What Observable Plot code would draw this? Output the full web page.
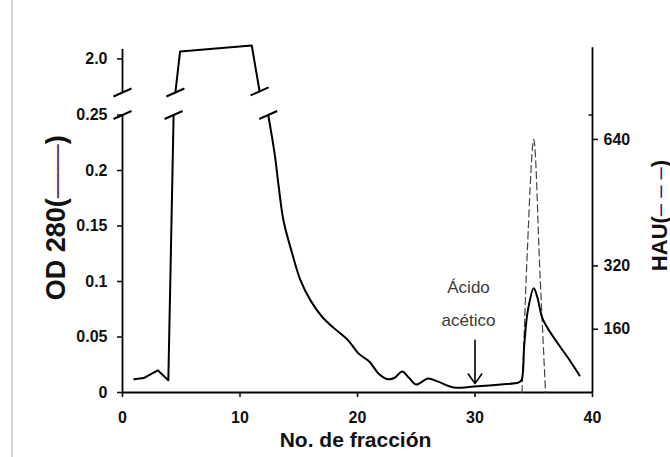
<!DOCTYPE html>
<html><head><meta charset="utf-8">
<script src="https://cdn.jsdelivr.net/npm/d3@7"></script>
<script src="https://cdn.jsdelivr.net/npm/@observablehq/plot@0.6"></script>
<style>
body{margin:0;background:#fff;}
#wrap{position:relative;width:670px;height:457px;overflow:hidden;background:#fff;}
#edge{position:absolute;left:11px;top:0;width:2px;height:457px;background:#d4d4d4;}
#wrap svg{position:absolute;left:0;top:0;}
</style></head><body><div id="wrap"><div id="edge"></div></div>
<script>
// ---- data ----
const odX   = [1, 1.8, 3.0, 3.9, 4.35,   4.5, 4.9, 11.0, 11.67,
               12.4, 12.95, 13.3, 13.7, 14.45, 15.15, 16.0, 17.0, 18.0, 19.2, 20.1, 21.0, 21.8, 22.6, 23.2, 23.8, 24.4, 25.0, 26.0, 26.8, 28.2, 29.9, 32.2, 33.7, 33.95, 34.2, 34.5, 35.0, 35.3, 35.75, 36.7, 37.9, 38.9];
const odY   = [0.012, 0.013, 0.020, 0.011, 0.25,   1.88, 2.026, 2.048, 1.884,
               0.25, 0.215, 0.185, 0.155, 0.125, 0.101, 0.083, 0.068, 0.058, 0.047, 0.035, 0.028, 0.017, 0.012, 0.0135, 0.019, 0.013, 0.0072, 0.0126, 0.0100, 0.0045, 0.0054, 0.0072, 0.009, 0.011, 0.044, 0.074, 0.094, 0.086, 0.0666, 0.0495, 0.0315, 0.0153];
const odSeg = ["a","a","a","a","a", "b","b","b","b",
               "c","c","c","c","c","c","c","c","c","c","c","c","c","c","c","c","c","c","c","c","c","c","c","c","c","c","c","c","c","c","c","c","c"];
const hauX = [34.0, 34.2, 34.4, 35.0, 35.5, 35.75, 36.0];
const hauY = [0, 160, 320, 640, 320, 160, 0];
const xTicks = [0, 10, 20, 30, 40];
const odTicks = [0, 0.05, 0.1, 0.15, 0.2, 0.25, 2.0];
const hauTicks = [160, 320, 640];
const breakX = [0, 0, 4.35, 4.5, 11.67, 12.4];
const breakY = [0.25, 1.88, 0.25, 1.88, 1.884, 0.25];
const acidoText = "Ácido\nacético";
const acidoX = 29.45, acidoY = 0.084;
const arrowX = 30, arrowTop = 0.047, arrowTip = 0.008;
const xLabel = "No. de fracción";
const odLabel = "OD 280(——)";
const hauLabel = "HAU(– – –)";
// title anchor points, in chart units
const odLabelX = -5.62, odLabelY = 0.157;
const hauLabelX = 45.75, hauLabelY = 0.159;

// HAU (right axis) is drawn on the OD scale: 640 HAU sits at OD 0.228
const hauK = 0.228 / 640;

const od = odX.map((x, i) => ({x, y: odY[i], seg: odSeg[i]}));
const hau = hauX.map((x, i) => ({x, y: hauY[i] * hauK}));
const breaks = breakX.map((x, i) => ({x, y: breakY[i]}));

const slash = {draw(ctx) { ctx.moveTo(-9, 4); ctx.lineTo(9, -4); }};
const inTick = {draw(ctx) { ctx.moveTo(-4, 0); ctx.lineTo(0, 0); }};
const FONT = "'Liberation Sans', Arial, sans-serif";

const chart = Plot.plot({
  width: 670, height: 457,
  marginLeft: 122, marginRight: 78, marginTop: 30, marginBottom: 65,
  style: {fontFamily: FONT, background: "transparent", color: "#111", overflow: "visible"},
  x: {type: "linear", domain: [0, 40], range: [122, 592]},
  y: {type: "linear", domain: [0, 0.25, 1.88, 2.1], range: [392, 114.5, 92, 30.4]},
  marks: [
    // axis lines
    Plot.ruleX([[0, 0.25], [1.88, 2.034]], {x: 0, y1: d => d[0], y2: d => d[1], stroke: "#000", strokeWidth: 1.8}),
    Plot.ruleX([40], {y1: 0, y2: 2.04, stroke: "#000", strokeWidth: 1.8}),
    Plot.ruleY([0], {x1: 0, x2: 40, stroke: "#000", strokeWidth: 1.8}),
    Plot.axisX({ticks: xTicks, tickSize: 5, tickPadding: 14, fontSize: 16, fontWeight: "bold", strokeWidth: 1.6, label: null}),
    Plot.axisY({anchor: "left", ticks: odTicks, tickFormat: d => d === 2 ? "2.0" : String(d), tickSize: 5, tickPadding: 10, fontSize: 16, fontWeight: "bold", strokeWidth: 1.6, label: null}),
    Plot.axisY({anchor: "right", ticks: hauTicks.map(h => h * hauK), tickFormat: d => String(Math.round(d / hauK)), tickSize: 5, tickPadding: 6, fontSize: 16, fontWeight: "bold", strokeWidth: 1.6, label: null}),
    Plot.dot([40], {x: d => d, y: 0.25, symbol: inTick, stroke: "#000", strokeWidth: 1.4, fill: "none"}),
    // HAU dashed
    Plot.line(hau, {x: "x", y: "y", curve: "catmull-rom", stroke: "#444", strokeWidth: 1.2, strokeDasharray: "7,4"}),
    // OD 280
    Plot.line(od.filter(d => d.seg !== "c"), {x: "x", y: "y", z: "seg", stroke: "#000", strokeWidth: 2}),
    Plot.line(od.filter(d => d.seg === "c"), {x: "x", y: "y", curve: "catmull-rom", stroke: "#000", strokeWidth: 2}),
    // break marks
    Plot.dot(breaks, {x: "x", y: "y", symbol: slash, stroke: "#000", strokeWidth: 2, fill: "none"}),
    // annotation
    Plot.text([acidoText], {x: acidoX, y: acidoY, text: d => d, lineHeight: 1.95, fontSize: 17, fill: "#3a3a3a", fontWeight: "normal"}),
    Plot.arrow([arrowX], {x1: d => d, x2: d => d, y1: arrowTop, y2: arrowTip, stroke: "#000", strokeWidth: 1.6, headLength: 11, headAngle: 70}),
    // axis titles
    Plot.text([xLabel], {frameAnchor: "bottom", textAnchor: "middle", text: d => d, dx: -2, dy: 54, fontSize: 21, fontWeight: "bold", fill: "#111"}),
    Plot.text([odLabel], {x: odLabelX, y: odLabelY, textAnchor: "middle", text: d => d, rotate: -90, fontSize: 27, fontWeight: "bold", fill: "#111"}),
    Plot.text([hauLabel], {x: hauLabelX, y: hauLabelY, textAnchor: "middle", text: d => d, rotate: -90, fontSize: 22, fontWeight: "bold", fill: "#111"})
  ]
});
document.getElementById("wrap").appendChild(chart);

// colour the dash parts of the rotated axis titles and pin them at their anchor points
const NS = "http://www.w3.org/2000/svg";
const sx = chart.scale("x"), sy = chart.scale("y");
function splitLabel(full, parts, ax, ay) {
  chart.querySelectorAll("text").forEach(t => {
    if (t.textContent === full) {
      t.textContent = "";
      parts.forEach(([s, attrs]) => {
        const ts = document.createElementNS(NS, "tspan");
        ts.textContent = s;
        for (const k in attrs) ts.setAttribute(k, attrs[k]);
        t.appendChild(ts);
      });
      const g = t.parentNode;
      if (g && g.removeAttribute) g.removeAttribute("transform");
      t.removeAttribute("x");
      t.setAttribute("y", "0");
      t.setAttribute("dy", "0.35em");
      t.setAttribute("text-anchor", "middle");
      t.setAttribute("transform", `translate(${sx.apply(ax)},${sy.apply(ay)}) rotate(-90)`);
    }
  });
}
splitLabel(odLabel, [["OD 280(", {}], ["——", {"font-weight": "normal", fill: "#5a3550"}], [")", {}]], odLabelX, odLabelY);
splitLabel(hauLabel, [["HAU(", {}], ["– – –", {"font-weight": "normal", fill: "#1c2a6e"}], [")", {}]], hauLabelX, hauLabelY);
</script>
</body></html>
